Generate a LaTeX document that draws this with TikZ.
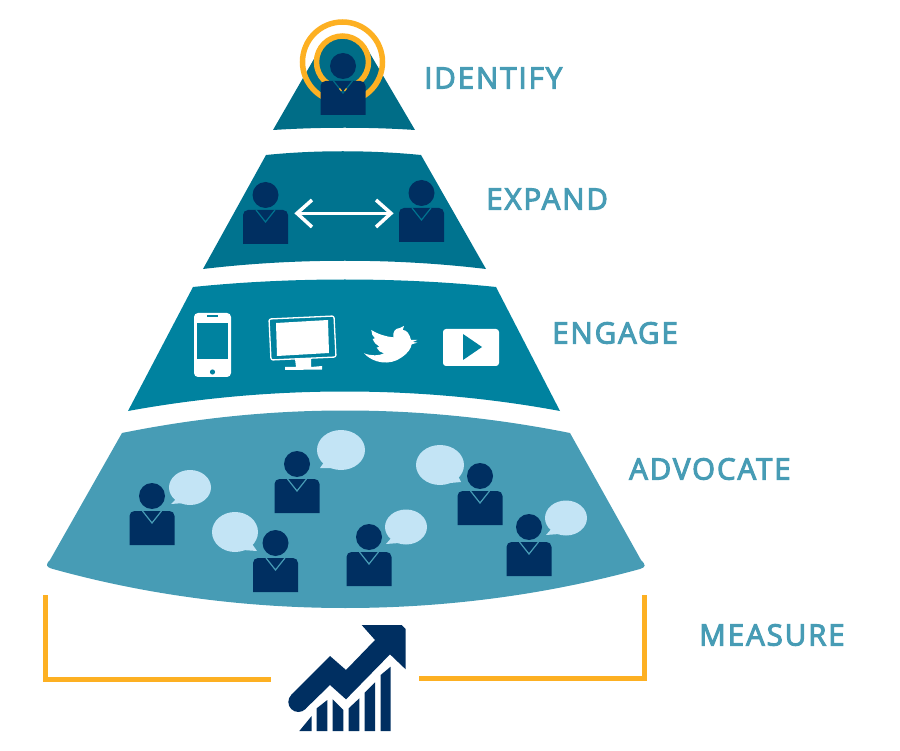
\documentclass[tikz,border=0pt]{standalone}
\usepackage{xcolor}
\usepackage{fontspec}
\setmainfont{Open Sans}
\usetikzlibrary{positioning}
\definecolor{tierone}{HTML}{006D87}
\definecolor{tiertwo}{HTML}{00738F}
\definecolor{tierthree}{HTML}{00829F}
\definecolor{tierfour}{HTML}{479CB5}
\definecolor{navy}{HTML}{002F61}
\definecolor{bubble}{HTML}{C3E4F5}
\definecolor{amber}{HTML}{FDB022}
\tikzset{
  tierlabel/.style={anchor=west,inner sep=0pt,text=tierfour,font=\fontsize{29.5}{30}\selectfont\addfontfeatures{FakeBold=3.5,LetterSpace=6.5}},
  bracket/.style={draw=amber,line width=5pt},
  pics/person/.style={code={
    \fill[navy] (0,0) circle (13);
    \fill[navy] (-22.5,49) [rounded corners=5] -- (-22.5,15) -- (22.5,15) [sharp corners] -- (22.5,49) -- cycle;
    \draw[#1,line width=1.2pt] (-9.5,15) -- (0,27) -- (9.5,15);
  }}
}
\begin{document}
\begin{tikzpicture}[x=1pt,y=-1pt]
  \useasboundingbox (0,0) rectangle (900,751);
  % tiers
  \fill[tierfour] (122,433) .. controls (270,403) and (420,403) .. (570,433)
    -- (641,560) .. controls (646,565) and (646,567) .. (640,569)
    .. controls (450,621) and (240,621) .. (53,569)
    .. controls (46,567) and (45,565) .. (50,560) -- cycle;
  \fill[tierthree] (193,287) .. controls (290,277) and (400,277) .. (496,287)
    -- (560,411) .. controls (420,385) and (270,385) .. (128,411) -- cycle;
  \fill[tiertwo] (266,155) .. controls (315,150) and (370,150) .. (421,155)
    -- (486,269) .. controls (395,258) and (295,258) .. (203,269) -- cycle;
  % top tier and rings
  \fill[tierone] (273,130) -- (322,45) -- (365,45) -- (415,130)
    .. controls (370,127) and (320,127) .. (273,130) -- cycle;
  \fill[tierone] (342.5,62) circle (26);
  \draw[amber,line width=5.5pt] (342.5,62) circle (40);
  \draw[amber,line width=5.5pt] (342.5,62) circle (26);
  \pic at (343,66) {person=tierone};
  \draw[amber,line width=1.2pt] (339.5,88.5) -- (341.5,91);
  \draw[amber,line width=1.2pt] (346.5,88.5) -- (344.5,91);
  % expand
  \pic at (265.5,195) {person=tiertwo};
  \pic at (421.5,193) {person=tiertwo};
  \coordinate (linkl) at (297,213.3);
  \coordinate (linkr) at (391,213.3);
  \draw[white,line width=3pt] (linkl) -- (linkr);
  \draw[white,line width=3.5pt] (312,200) -- (linkl) -- (312,227);
  \draw[white,line width=3.5pt] (376,200) -- (linkr) -- (376,227);
  % phone
  \fill[white,rounded corners=4] (194,313) rectangle (231,377);
  \fill[tierthree] (197,323) rectangle (228,359);
  \fill[tierthree] (207,315) rectangle (218,317.5);
  \fill[tierthree] (212.5,372) circle (2.6);
  % monitor
  \draw[white,line width=1.3pt,rounded corners=2] (269,319) -- (334,316) -- (336,357) -- (271,360) -- cycle;
  \fill[white] (276,323) -- (328,320) -- (329,353) -- (277,356) -- cycle;
  \fill[white] (295,359) -- (311,359) -- (311,367) -- (322,366) -- (322,369.5) -- (285,370) -- (285,367) -- (296,367) -- cycle;
  % bird
  \begin{scope}[shift={(180,300)},scale=1/3]
    \fill[white] (712,120) -- (693,120) .. controls (688,100) and (680,90) .. (668,90)
      -- (672,78) -- (660,84) .. controls (645,85) and (638,95) .. (640,112)
      .. controls (618,110) and (595,103) .. (574,90)
      .. controls (574,100) and (578,110) .. (585,115) -- (578,117)
      .. controls (582,128) and (590,135) .. (598,140) -- (590,143)
      .. controls (594,152) and (602,158) .. (612,160)
      .. controls (595,168) and (575,168) .. (552,160)
      .. controls (580,190) and (630,198) .. (665,172)
      .. controls (685,158) and (693,145) .. (695,133)
      -- (712,128) -- (698,126) -- cycle;
  \end{scope}
  % play
  \fill[white,rounded corners=3] (443,329) rectangle (499,366);
  \fill[tierthree] (463,334) -- (482,347) -- (463,360) -- cycle;
  % advocate
  \foreach \bx/\by/\rx/\ry/\tx/\ty/\ax/\ay/\cx/\cy in {
    190/487.5/21/17.5/171/504/178/497/184/503,
    341/450/24/20/320/468/327/458/334/468,
    440/465/24/20/461/482/450/483/456/472,
    566/518/21/17.5/546/535/553/527/559/534,
    406/527/21/17.5/386/544/393/536/399/543,
    235/532/23/20/257/551/243/550/250/541}
  {
    \fill[bubble] (\bx,\by) ellipse ({\rx} and {\ry});
    \fill[bubble] (\tx,\ty) -- (\ax,\ay) -- (\cx,\cy) -- cycle;
  }
  \foreach \px/\py in {152/496,297/464,480/476,529/527,369/537,275.5/543}
    \pic at (\px,\py) {person=tierfour};
  % measure
  \coordinate (brl) at (45,595);
  \coordinate (brlc) at (45,679);
  \coordinate (brle) at (271,679);
  \coordinate (brr) at (644,595);
  \coordinate (brrc) at (644,678);
  \coordinate (brre) at (419,678);
  \draw[bracket] (brl) -- (brlc) -- (brle);
  \draw[bracket] (brr) -- (brrc) -- (brre);
  % chart
  \begin{scope}[shift={(270,610)},scale=1/3]
    \fill[navy] (275,45) -- (395,45) -- (407,57) -- (407,178) -- (360,133) -- (228,268)
      -- (180,225) -- (105,298) -- (64,254) -- (180,138) -- (228,180) -- (315,90) -- cycle;
    \fill[navy] (85,276) circle (30);
    \foreach \l/\tl/\r/\tr in {88/363/125/318,140/295/172/270,188/268/220/300,236/295/268/265,284/248/315/217,332/195/362/170}
      \fill[navy] (\l,363) -- (\l,\tl) -- (\r,\tr) -- (\r,363) -- cycle;
  \end{scope}
  % labels
  \node[tierlabel] (identify) at (424,78) {IDENTIFY};
  \node[tierlabel] (expand) at (486,199) {EXPAND};
  \node[tierlabel] (engage) at (552,333) {ENGAGE};
  \node[tierlabel] (advocate) at (629,469) {ADVOCATE};
  \node[tierlabel] (measure) at (699,635) {MEASURE};
\end{tikzpicture}
\end{document}
